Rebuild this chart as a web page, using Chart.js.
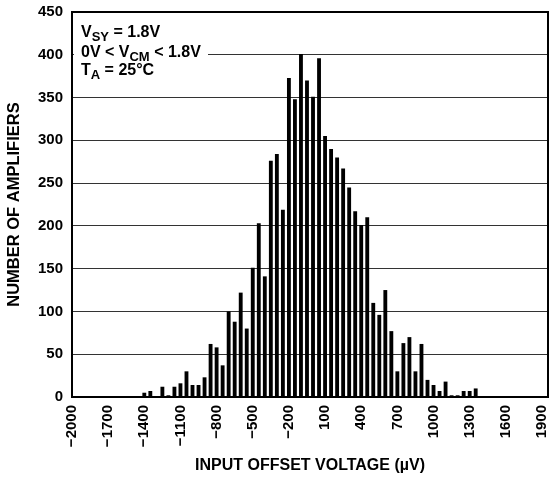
<!DOCTYPE html>
<html><head><meta charset="utf-8">
<script src="https://cdn.jsdelivr.net/npm/chart.js@4/dist/chart.umd.min.js"></script>
<style>html,body{margin:0;padding:0;background:#fff;}#wrap{width:550px;height:478px;position:relative;}</style>
</head><body><div id="wrap"><canvas id="c"></canvas></div>
<script>
// x categories: input offset voltage bins (µV), 50 µV apart
const binStart = -2000;
const binStep = 50;
const binCount = 80;
// counts, first bin = -1400 µV
const countsStart = -1400;
const counts = [5,7,0,12,2,12,16,30,14,14,23,62,58,37,100,88,122,80,151,203,141,276,284,219,373,348,401,370,351,396,305,290,280,267,245,217,201,210,110,96,125,77,30,63,70,30,62,20,14,7,18,2,2,7,7,10];
const labelEvery = 300;
const yMin = 0, yMax = 450, yStep = 50;
const annotation = [
  [['V',''],['SY','sub'],[' = 1.8V','']],
  [['0V < V',''],['CM','sub'],[' < 1.8V','']],
  [['T',''],['A','sub'],[' = 25°C','']]
];

const categories = Array.from({length: binCount}, (_, i) => binStart + i * binStep);
const values = categories.map(v => {
  const k = (v - countsStart) / binStep;
  return (k >= 0 && k < counts.length) ? counts[k] : 0;
});

const FONT = "'Liberation Sans', Arial, sans-serif";
const fmt = v => (v < 0 ? '\u2212' + Math.abs(v) : String(v));

const framePlugin = {
  id: 'frame',
  afterDatasetsDraw(chart) {
    const {ctx, chartArea: a} = chart;
    ctx.save();
    // annotation background
    ctx.fillStyle = '#fff';
    ctx.fillRect(a.left + 2, 18, 134, 66);
    ctx.fillStyle = '#000';
    ctx.textBaseline = 'alphabetic';
    const baselines = [37, 57, 75];
    annotation.forEach((parts, li) => {
      let x = 81;
      parts.forEach(([t, kind]) => {
        if (kind === 'sub') {
          ctx.font = 'bold 13px ' + FONT;
          ctx.fillText(t, x, baselines[li] + 4);
        } else {
          ctx.font = 'bold 16px ' + FONT;
          ctx.fillText(t, x, baselines[li]);
        }
        x += ctx.measureText(t).width;
      });
    });
    ctx.strokeStyle = '#000';
    ctx.lineWidth = 2;
    ctx.strokeRect(a.left, a.top, a.right - a.left, a.bottom - a.top);
    ctx.restore();
  }
};

new Chart(document.getElementById('c'), {
  type: 'bar',
  data: {
    labels: categories,
    datasets: [{
      data: values,
      backgroundColor: '#000',
      borderWidth: 0,
      barPercentage: 0.64,
      categoryPercentage: 1
    }]
  },
  options: {
    responsive: true,
    maintainAspectRatio: false,
    animation: false,
    devicePixelRatio: 1,
    layout: {padding: {top: 12, right: 2, left: 0, bottom: 0}},
    plugins: {legend: {display: false}, tooltip: {enabled: false}},
    scales: {
      x: {
        type: 'category',
        offset: false,
        grid: {display: false, drawTicks: false},
        border: {display: false},
        ticks: {
          autoSkip: false, maxRotation: 90, minRotation: 90, padding: 8,
          color: '#000', font: {family: FONT, weight: 'bold', size: 15},
          callback: function(val, i) {
            const v = categories[i];
            return ((v - binStart) % labelEvery === 0) ? fmt(v) : '';
          }
        },
        title: {display: true, text: 'INPUT OFFSET VOLTAGE (µV)', color: '#000',
          font: {family: FONT, weight: 'bold', size: 16}, padding: {top: 0, bottom: 2.5}},
        afterFit(s) { s.height = 81; s.paddingLeft = 0; s.paddingRight = 0; }
      },
      y: {
        min: yMin, max: yMax,
        grid: {color: '#333', lineWidth: 1, drawTicks: false},
        border: {display: false},
        ticks: {stepSize: yStep, padding: 9, color: '#000',
          font: {family: FONT, weight: 'bold', size: 15}},
        title: {display: true, text: 'NUMBER OF AMPLIFIERS', color: '#000',
          font: {family: FONT, weight: 'bold', size: 16.5}, padding: {top: 5, bottom: 0}},
        afterFit(s) { s.width = 72; s.paddingTop = 0; s.paddingBottom = 0; }
      }
    }
  },
  plugins: [framePlugin]
});
</script></body></html>
